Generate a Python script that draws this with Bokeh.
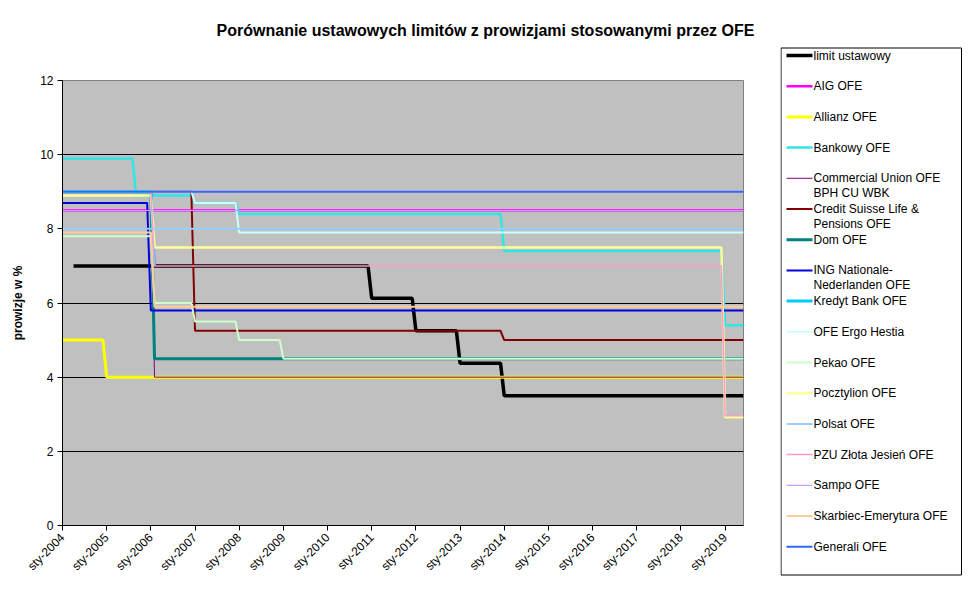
import math
from bokeh.plotting import figure
from bokeh.models import Range1d, FixedTicker
from bokeh.layouts import row, column
from bokeh.embed import file_html
from bokeh.resources import INLINE
from bokeh.core.properties import value

FONT = "Liberation Sans"

title_text = "Porównanie ustawowych limitów z prowizjami stosowanymi przez OFE"
y_label = "prowizje w %"

# months counted from January 2004 (0 = sty-2004)
last_month = 185
tick_months = [0, 12, 24, 36, 48, 60, 72, 84, 96, 108, 120, 132, 144, 156, 168, 180]
tick_labels = ["sty-2004", "sty-2005", "sty-2006", "sty-2007", "sty-2008", "sty-2009",
               "sty-2010", "sty-2011", "sty-2012", "sty-2013", "sty-2014", "sty-2015",
               "sty-2016", "sty-2017", "sty-2018", "sty-2019"]
y_ticks = [0, 2, 4, 6, 8, 10, 12]

# each series: months where a new fee level starts, and the fee level (%)
limit_months = [3, 84, 96, 108, 120]
limit_values = [7.0, 6.125, 5.25, 4.375, 3.5]
aig_months = [0]
aig_values = [8.5]
allianz_months = [0, 12]
allianz_values = [5.0, 4.0]
bankowy_months = [0, 20, 36, 48, 120, 180]
bankowy_values = [9.9, 8.9, 8.7, 8.4, 7.4, 5.4]
cu_months = [0, 25]
cu_values = [9.0, 4.0]
cs_months = [0, 36, 120]
cs_values = [9.0, 5.25, 5.0]
dom_months = [0, 25]
dom_values = [9.0, 4.5]
ing_months = [0, 24]
ing_values = [8.7, 5.8]
kredyt_months = [0, 25]
kredyt_values = [9.0, 7.0]
kredyt_end = 25
ergo_months = [0, 36, 48]
ergo_values = [9.0, 8.7, 7.9]
pekao_months = [0, 25, 36, 48, 60]
pekao_values = [7.8, 6.0, 5.5, 5.0, 4.5]
pocztylion_months = [0, 25, 180]
pocztylion_values = [8.9, 7.5, 2.92]
polsat_months = [0]
polsat_values = [8.0]
pzu_months = [0, 25, 180]
pzu_values = [9.0, 7.0, 2.96]
sampo_months = [0]
sampo_values = [8.5]
skarbiec_months = [0, 25]
skarbiec_values = [7.9, 5.9]
generali_months = [0]
generali_values = [9.0]

series = [
    ("limit ustawowy", limit_months, limit_values, last_month, "#000000", 3.5),
    ("AIG OFE", aig_months, aig_values, last_month, "#FF00FF", 2.5),
    ("Allianz OFE", allianz_months, allianz_values, last_month, "#FFFF00", 3),
    ("Bankowy OFE", bankowy_months, bankowy_values, last_month, "#2EE6E6", 2.5),
    ("Commercial Union OFE\nBPH CU WBK", cu_months, cu_values, last_month, "#800080", 1),
    ("Credit Suisse Life &\nPensions OFE", cs_months, cs_values, last_month, "#800000", 2),
    ("Dom OFE", dom_months, dom_values, last_month, "#008080", 3),
    ("ING Nationale-\nNederlanden OFE", ing_months, ing_values, last_month, "#0000DD", 2),
    ("Kredyt Bank OFE", kredyt_months, kredyt_values, kredyt_end, "#00CCFF", 3),
    ("OFE Ergo Hestia", ergo_months, ergo_values, last_month, "#CCFFFF", 2),
    ("Pekao OFE", pekao_months, pekao_values, last_month, "#CCFFCC", 2),
    ("Pocztylion OFE", pocztylion_months, pocztylion_values, last_month, "#FFFF99", 2.5),
    ("Polsat OFE", polsat_months, polsat_values, last_month, "#99CCFF", 2),
    ("PZU Złota Jesień OFE", pzu_months, pzu_values, last_month, "#FF99CC", 1.5),
    ("Sampo OFE", sampo_months, sampo_values, last_month, "#CC99FF", 1.3),
    ("Skarbiec-Emerytura OFE", skarbiec_months, skarbiec_values, last_month, "#FFCC99", 2),
    ("Generali OFE", generali_months, generali_values, last_month, "#3366FF", 2),
]


def monthly_path(months, values, end):
    xs, ys = [], []
    for i, (m, v) in enumerate(zip(months, values)):
        stop = months[i + 1] - 1 if i + 1 < len(months) else end
        xs += [m, stop]
        ys += [v, v]
    return xs, ys


def no_align(fig):
    if "frame_align" in fig.properties():
        fig.frame_align = False


# title strip (pixel coordinates, y downwards)
tf = figure(frame_width=780, frame_height=45, x_range=Range1d(0, 780), y_range=Range1d(45, 0),
            x_axis_location=None, y_axis_location=None, min_border=0, title=None,
            toolbar_location=None, output_backend="svg")
tf.grid.visible = False
tf.outline_line_color = None
tf.background_fill_color = "white"
tf.border_fill_color = "white"
tf.text(x=[485], y=[30], text=[title_text], text_font=value(FONT), text_font_size="16px",
        text_font_style="bold", text_align="center", text_baseline="middle", text_color="black")
no_align(tf)

p = figure(frame_width=681, frame_height=445, title=None,
           min_border_left=62, min_border_right=37, min_border_top=35, min_border_bottom=70,
           x_range=Range1d(0, last_month), y_range=Range1d(0, 12),
           toolbar_location=None, output_backend="svg")
no_align(p)
p.background_fill_color = "#C0C0C0"
p.border_fill_color = "white"
p.outline_line_color = "#808080"
p.xgrid.visible = False
p.ygrid.grid_line_color = "black"
p.ygrid.grid_line_alpha = 1.0
p.ygrid.grid_line_width = 1

p.yaxis.ticker = FixedTicker(ticks=y_ticks)
p.xaxis.ticker = FixedTicker(ticks=tick_months)
p.xaxis.major_label_overrides = {m: lab for m, lab in zip(tick_months, tick_labels)}
p.xaxis.major_label_orientation = math.pi / 4
for ax in (p.xaxis, p.yaxis):
    ax.axis_line_color = "black"
    ax.major_tick_line_color = "black"
    ax.major_tick_out = 5
    ax.major_tick_in = 0
    ax.minor_tick_line_color = None
    ax.major_label_text_font = FONT
    ax.major_label_text_font_size = "12px"
    ax.major_label_text_color = "black"
p.yaxis.major_label_standoff = 4
p.yaxis.axis_label = y_label
p.yaxis.axis_label_text_font = FONT
p.yaxis.axis_label_text_font_size = "12px"
p.yaxis.axis_label_text_font_style = "bold"
p.yaxis.axis_label_text_color = "black"
p.yaxis.axis_label_standoff = 12

for name, months, values, end, color, width in series:
    xs, ys = monthly_path(months, values, end)
    p.line(xs, ys, line_color=color, line_width=width)

# legend panel (pixel coordinates, y downwards)
lf = figure(frame_width=182, frame_height=595, x_range=Range1d(0, 182), y_range=Range1d(595, 0),
            x_axis_location=None, y_axis_location=None, min_border=0, title=None,
            toolbar_location=None, output_backend="svg")
no_align(lf)
lf.grid.visible = False
lf.outline_line_color = None
lf.background_fill_color = "white"
lf.border_fill_color = "white"
lf.quad(left=[0.5], right=[181], top=[47.5], bottom=[574.5],
        fill_color="white", line_color="black", line_width=1)

row_top, row_step, line_step = 55, 30.7, 15
tx, ty, tt = [], [], []
for i, (name, months, values, end, color, width) in enumerate(series):
    yy = row_top + i * row_step
    lf.line([6, 32], [yy, yy], line_color=color, line_width=width)
    for k, part in enumerate(name.split("\n")):
        tx.append(33)
        ty.append(yy + k * line_step)
        tt.append(part)
lf.text(x=tx, y=ty, text=tt, text_font=value(FONT), text_font_size="12px",
        text_baseline="middle", text_align="left", text_color="black")

layout = row(column(tf, p), lf)
open("out.html", "w").write(file_html(layout, INLINE))
